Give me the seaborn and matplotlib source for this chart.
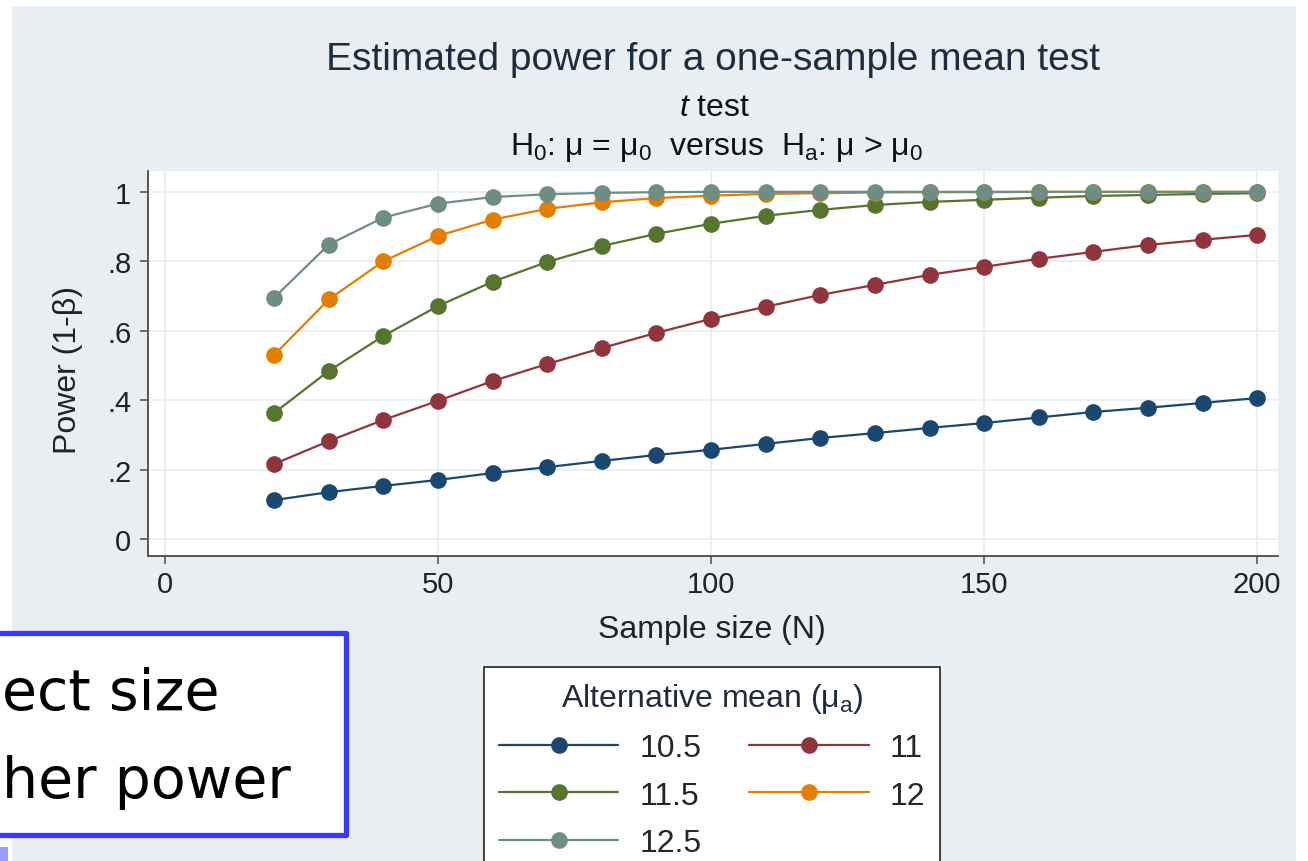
import pandas as pd
import seaborn as sns
import matplotlib.pyplot as plt
from matplotlib import font_manager
from matplotlib.lines import Line2D
from matplotlib.patches import Rectangle

# ---- data ----
sample_size = [20, 30, 40, 50, 60, 70, 80, 90, 100, 110, 120, 130, 140, 150, 160, 170, 180, 190, 200]
power_105 = [0.112, 0.135, 0.153, 0.170, 0.190, 0.207, 0.225, 0.242, 0.257, 0.274,
             0.291, 0.305, 0.320, 0.334, 0.350, 0.366, 0.378, 0.392, 0.406]
power_110 = [0.216, 0.282, 0.343, 0.398, 0.455, 0.504, 0.550, 0.594, 0.634, 0.669,
             0.703, 0.732, 0.761, 0.784, 0.807, 0.827, 0.847, 0.862, 0.876]
power_115 = [0.363, 0.484, 0.585, 0.671, 0.741, 0.798, 0.844, 0.879, 0.908, 0.931,
             0.948, 0.962, 0.971, 0.977, 0.983, 0.988, 0.991, 0.994, 0.996]
power_120 = [0.530, 0.690, 0.800, 0.873, 0.920, 0.951, 0.970, 0.982, 0.989, 0.994,
             0.996, 0.998, 0.999, 0.999, 1.000, 1.000, 1.000, 1.000, 1.000]
power_125 = [0.695, 0.848, 0.926, 0.966, 0.985, 0.993, 0.997, 0.999, 1.000, 1.000,
             1.000, 1.000, 1.000, 1.000, 1.000, 1.000, 1.000, 1.000, 1.000]
alt_means = ['10.5', '11', '11.5', '12', '12.5']
colors = ['#1a476f', '#90353b', '#55752f', '#e37e00', '#6e8e84']

x_ticks = [0, 50, 100, 150, 200]
y_ticks = [0, 0.2, 0.4, 0.6, 0.8, 1.0]
y_tick_labels = ['0', '.2', '.4', '.6', '.8', '1']

# long-form table for seaborn
series = [power_105, power_110, power_115, power_120, power_125]
df = pd.concat([pd.DataFrame({'N': sample_size, 'power': p, 'mu_a': m})
                for p, m in zip(series, alt_means)], ignore_index=True)

# ---- fonts ----
installed = {f.name for f in font_manager.fontManager.ttflist}
stata_font = 'Liberation Sans Narrow' if 'Liberation Sans Narrow' in installed else 'Liberation Sans'

sns.set_style('white')
plt.rcParams['font.family'] = [stata_font, 'DejaVu Sans']
plt.rcParams['mathtext.fontset'] = 'custom'
plt.rcParams['mathtext.rm'] = stata_font
plt.rcParams['mathtext.it'] = stata_font + ':italic'
plt.rcParams['mathtext.sf'] = stata_font

W, H = 1308, 862
fig = plt.figure(figsize=(W / 100, H / 100), dpi=100)
fig.patch.set_facecolor('white')

# graph region background (Stata s2color)
fig.add_artist(Rectangle((12 / W, 0), (1296 - 12) / W, (H - 7) / H,
                         transform=fig.transFigure, facecolor='#e8eef1',
                         edgecolor='none', zorder=-10))

ax = fig.add_axes([148 / W, 1 - 557 / H, (1278 - 148) / W, (557 - 172) / H])
ax.set_facecolor('white')

sns.lineplot(data=df, x='N', y='power', hue='mu_a', hue_order=alt_means,
             palette=colors, marker='o', markersize=12, markeredgewidth=0,
             linewidth=1.6, legend=False, ax=ax)

ax.set_xlim(-3.1, 203.8)
ax.set_ylim(-0.049, 1.06)
ax.set_xticks(x_ticks)
ax.set_xticklabels([str(v) for v in x_ticks])
ax.set_yticks(y_ticks)
ax.set_yticklabels(y_tick_labels)
ax.grid(True, color='#e6ecef', linewidth=1.2)
ax.set_axisbelow(True)
for side in ['top', 'right']:
    ax.spines[side].set_visible(False)
for side in ['left', 'bottom']:
    ax.spines[side].set_color('#4a4a4a')
    ax.spines[side].set_linewidth(1.3)
ax.tick_params(axis='both', direction='out', length=6, width=1.1, color='#4a4a4a',
               labelsize=21, labelcolor='#222222', left=True, bottom=True)
ax.tick_params(axis='x', pad=4)
ax.tick_params(axis='y', pad=6)

ax.set_xlabel('Sample size (N)', fontsize=23, color='#222222')
ax.set_ylabel('Power (1-β)', fontsize=23, color='#222222')
ax.xaxis.set_label_coords((712 - 148) / (1278 - 148), -(630 - 557) / (557 - 172))
ax.yaxis.set_label_coords(-(148 - 68) / (1278 - 148), (557 - 370) / (557 - 172))
ax.xaxis.label.set_va('center')
ax.yaxis.label.set_va('center')

# titles
fig.text(713 / W, 1 - 60 / H, 'Estimated power for a one-sample mean test',
         ha='center', va='center', fontsize=28, color='#1e2d3d')
fig.text(715 / W, 1 - 108 / H, '$\\mathit{t}$ test',
         ha='center', va='center', fontsize=23, color='#111111')
fig.text(717 / W, 1 - 148 / H,
         'H$_0$: μ = μ$_0$  versus  H$_\\mathrm{a}$: μ > μ$_0$',
         ha='center', va='center', fontsize=23, color='#111111')

# legend in Stata order: row-wise, two columns
handles = [Line2D([], [], color=c, marker='o', markersize=12, markeredgewidth=0,
                  linewidth=1.6) for c in colors]
order = [0, 2, 4, 1, 3]
leg = fig.legend([handles[i] for i in order], [alt_means[i] for i in order],
                 title='Alternative mean (μ$_\\mathrm{a}$)', ncol=2,
                 loc='upper center', bbox_to_anchor=(712 / W, 1 - 668 / H),
                 borderaxespad=0, fontsize=23, title_fontsize=23, frameon=True,
                 fancybox=False, framealpha=1, facecolor='white',
                 handlelength=3.75, handletextpad=0.65,
                 columnspacing=1.5, labelspacing=0.55, borderpad=0.45)
leg.get_frame().set_edgecolor('#333333')
leg.get_frame().set_linewidth(1.3)
leg.get_title().set_color('#1e2d3d')

# overlay annotation box (cut off at the left edge)
fig.add_artist(Rectangle((-10 / W, 1 - 836 / H), 356 / W, 202 / H,
                         transform=fig.transFigure, facecolor='white',
                         edgecolor='#3a3aff', linewidth=3.8, joinstyle='round',
                         zorder=5))
fig.text(2 / W, 1 - 710 / H, 'ect size', ha='left', va='baseline',
         fontsize=41, family='DejaVu Sans', color='black', zorder=6)
fig.text(2 / W, 1 - 798 / H, 'her power', ha='left', va='baseline',
         fontsize=41, family='DejaVu Sans', color='black', zorder=6)
fig.add_artist(Rectangle((0, 0), 8 / W, 14 / H, transform=fig.transFigure,
                         facecolor='#9a9aff', edgecolor='none', zorder=6))

plt.savefig('out.png', dpi=100)
plt.close()
